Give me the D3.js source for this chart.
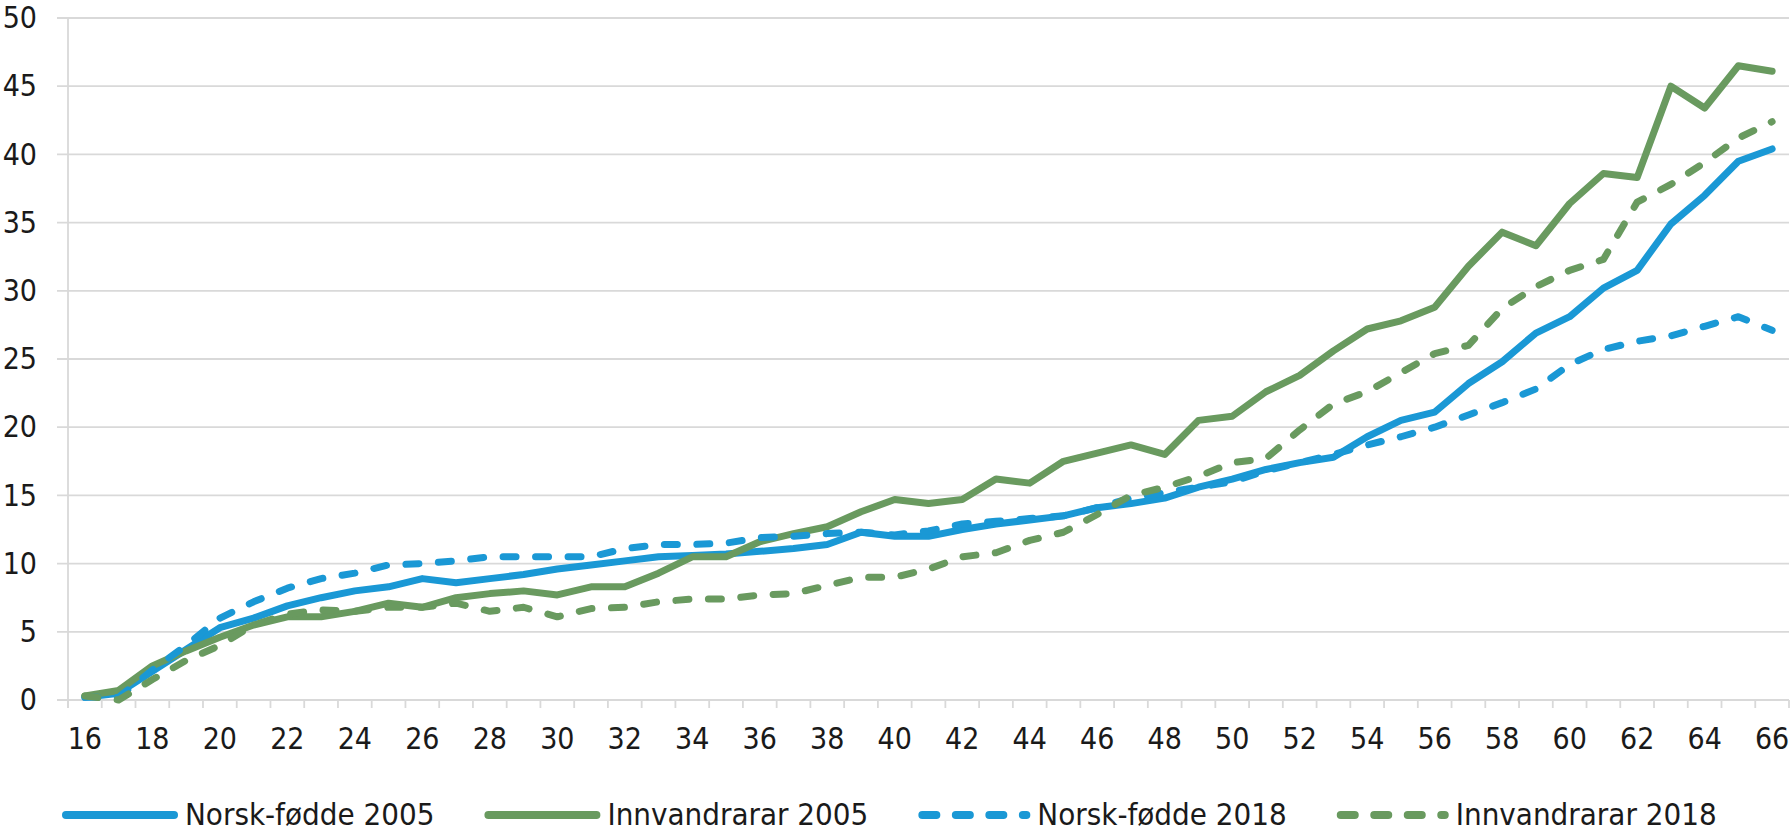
<!DOCTYPE html>
<html>
<head>
<meta charset="utf-8">
<script src="https://cdn.jsdelivr.net/npm/d3@7"></script>
<style>
  html, body { margin: 0; padding: 0; background: #fff; }
  svg text { font-family: "DejaVu Sans Condensed", "DejaVu Sans", sans-serif; fill: #1a1a1a; }
</style>
</head>
<body>
<svg id="chart" width="1792" height="831"></svg>
<script>
// ages on the category axis
var ages = [16, 17, 18, 19, 20, 21, 22, 23, 24, 25, 26, 27, 28, 29, 30, 31, 32, 33, 34, 35,
    36, 37, 38, 39, 40, 41, 42, 43, 44, 45, 46, 47, 48, 49, 50, 51, 52, 53, 54, 55,
    56, 57, 58, 59, 60, 61, 62, 63, 64, 65, 66];

var yTicks = [0, 5, 10, 15, 20, 25, 30, 35, 40, 45, 50];
var xLabels = [16, 18, 20, 22, 24, 26, 28, 30, 32, 34, 36, 38, 40, 42, 44, 46, 48, 50, 52, 54,
    56, 58, 60, 62, 64, 66];

var norsk2005 = [0.2, 0.5, 2.1, 3.7, 5.3, 6.0, 6.9, 7.5, 8.0, 8.3, 8.9, 8.6, 8.9, 9.2, 9.6, 9.9,
    10.2, 10.5, 10.6, 10.7, 10.9, 11.1, 11.4, 12.3, 12.0, 12.0, 12.5, 12.9, 13.2, 13.5, 14.1,
    14.4, 14.8, 15.6, 16.2, 16.9, 17.4, 17.8, 19.3, 20.5, 21.1, 23.2, 24.8, 26.9, 28.1, 30.2,
    31.5, 34.9, 37.0, 39.5, 40.4];

var innv2005 = [0.3, 0.7, 2.5, 3.6, 4.6, 5.5, 6.1, 6.1, 6.5, 7.1, 6.8, 7.5, 7.8, 8.0, 7.7, 8.3,
    8.3, 9.3, 10.5, 10.5, 11.6, 12.2, 12.7, 13.8, 14.7, 14.4, 14.7, 16.2, 15.9, 17.5, 18.1,
    18.7, 18.0, 20.5, 20.8, 22.6, 23.8, 25.6, 27.2, 27.8, 28.8, 31.8, 34.3, 33.3, 36.4, 38.6,
    38.3, 45.0, 43.4, 46.5, 46.1];

var norsk2018 = [0.2, 0.2, 2.2, 4.0, 6.0, 7.2, 8.2, 8.9, 9.3, 9.9, 10.0, 10.2, 10.5, 10.5, 10.5,
    10.5, 11.1, 11.4, 11.4, 11.5, 11.9, 12.0, 12.2, 12.3, 12.1, 12.4, 12.9, 13.1, 13.3, 13.5,
    14.1, 14.8, 15.2, 15.6, 16.0, 16.8, 17.4, 18.0, 18.7, 19.3, 20.0, 20.9, 21.8, 22.8, 24.6,
    25.7, 26.3, 26.7, 27.4, 28.1, 27.1];

var innv2018 = [0.3, 0.0, 1.5, 2.9, 4.0, 5.5, 6.3, 6.6, 6.5, 6.8, 6.8, 7.1, 6.5, 6.8, 6.1, 6.7,
    6.8, 7.2, 7.4, 7.4, 7.7, 7.8, 8.4, 9.0, 9.0, 9.6, 10.5, 10.8, 11.7, 12.3, 13.6, 15.0,
    15.6, 16.4, 17.4, 17.7, 19.8, 21.7, 22.6, 24.0, 25.4, 26.0, 28.7, 30.3, 31.5, 32.3, 36.5,
    37.8, 39.4, 41.2, 42.4];

var seriesNames = ["Norsk-fødde 2005", "Innvandrarar 2005", "Norsk-fødde 2018", "Innvandrarar 2018"];

var blue = "#1a98d5";
var green = "#699a5f";
var grid = "#d9d9d9";
var font = "'DejaVu Sans Condensed', 'DejaVu Sans', sans-serif";

window.addEventListener("load", run);

function run() {
    var svg = d3.select("#chart");

    var left = 68, right = 1789, top = 18, bottom = 700;
    var gridStart = 57;

    var x = d3.scaleBand().domain(ages).range([left, right]).padding(0);
    var y = d3.scaleLinear().domain([0, 50]).range([bottom, top]);
    var cx = function (a) { return x(a) + x.bandwidth() / 2; };

    // horizontal gridlines
    svg.append("g").selectAll("line").data(yTicks).enter()
        .append("line")
        .attr("x1", gridStart)
        .attr("x2", right)
        .attr("y1", function (d) { return y(d); })
        .attr("y2", function (d) { return y(d); })
        .style("stroke", grid)
        .style("stroke-width", "1.8px");

    // vertical axis line
    svg.append("line")
        .attr("x1", left).attr("x2", left)
        .attr("y1", y(50)).attr("y2", bottom + 8)
        .style("stroke", grid)
        .style("stroke-width", "1.8px");

    // tick marks between categories
    var bounds = ages.map(function (a) { return x(a); }).concat([right]);
    svg.append("g").selectAll("line").data(bounds).enter()
        .append("line")
        .attr("x1", function (d) { return d; })
        .attr("x2", function (d) { return d; })
        .attr("y1", bottom)
        .attr("y2", bottom + 8)
        .style("stroke", grid)
        .style("stroke-width", "1.8px");

    // y labels
    var yAxis = svg.append("g")
        .attr("transform", "translate(" + gridStart + ",0)")
        .call(d3.axisLeft(y).tickValues(yTicks).tickSize(0).tickPadding(20));
    yAxis.select(".domain").remove();
    yAxis.selectAll("text")
        .style("font-size", "30px")
        .style("font-family", font)
        .style("fill", "#1a1a1a");

    // x labels
    var xAxis = svg.append("g")
        .attr("transform", "translate(0," + bottom + ")")
        .call(d3.axisBottom(x).tickValues(xLabels).tickSize(0));
    xAxis.select(".domain").remove();
    xAxis.selectAll("text")
        .attr("y", 49)
        .attr("dy", 0)
        .style("font-size", "30px")
        .style("font-family", font)
        .style("fill", "#1a1a1a");

    var series = [
        { name: seriesNames[0], values: norsk2005, color: blue, dash: null },
        { name: seriesNames[1], values: innv2005, color: green, dash: null },
        { name: seriesNames[2], values: norsk2018, color: blue, dash: "13,19.5" },
        { name: seriesNames[3], values: innv2018, color: green, dash: "13,19.5" }
    ];

    var line = d3.line()
        .x(function (d, i) { return cx(ages[i]); })
        .y(function (d) { return y(d); });

    series.forEach(function (s) {
        svg.append("path")
            .datum(s.values)
            .attr("d", line)
            .style("fill", "none")
            .style("stroke", s.color)
            .style("stroke-width", "7px")
            .style("stroke-linejoin", "round")
            .style("stroke-linecap", "round")
            .style("stroke-dasharray", s.dash);
    });

    // legend
    var lx = 62, ly = 815;
    series.forEach(function (s) {
        var len = s.dash ? 104 : 108;
        svg.append("line")
            .attr("x1", lx + 4).attr("x2", lx + 4 + len)
            .attr("y1", ly).attr("y2", ly)
            .style("stroke", s.color)
            .style("stroke-width", "8px")
            .style("stroke-linecap", "round")
            .style("stroke-dasharray", s.dash ? "14,19.5" : null);
        var t = svg.append("text")
            .attr("x", lx + len + 15)
            .attr("y", ly + 10)
            .style("font-size", "31px")
            .style("font-family", font)
            .text(s.name);
        lx = lx + len + 15 + t.node().getComputedTextLength() + 50;
    });
}
</script>
</body>
</html>
